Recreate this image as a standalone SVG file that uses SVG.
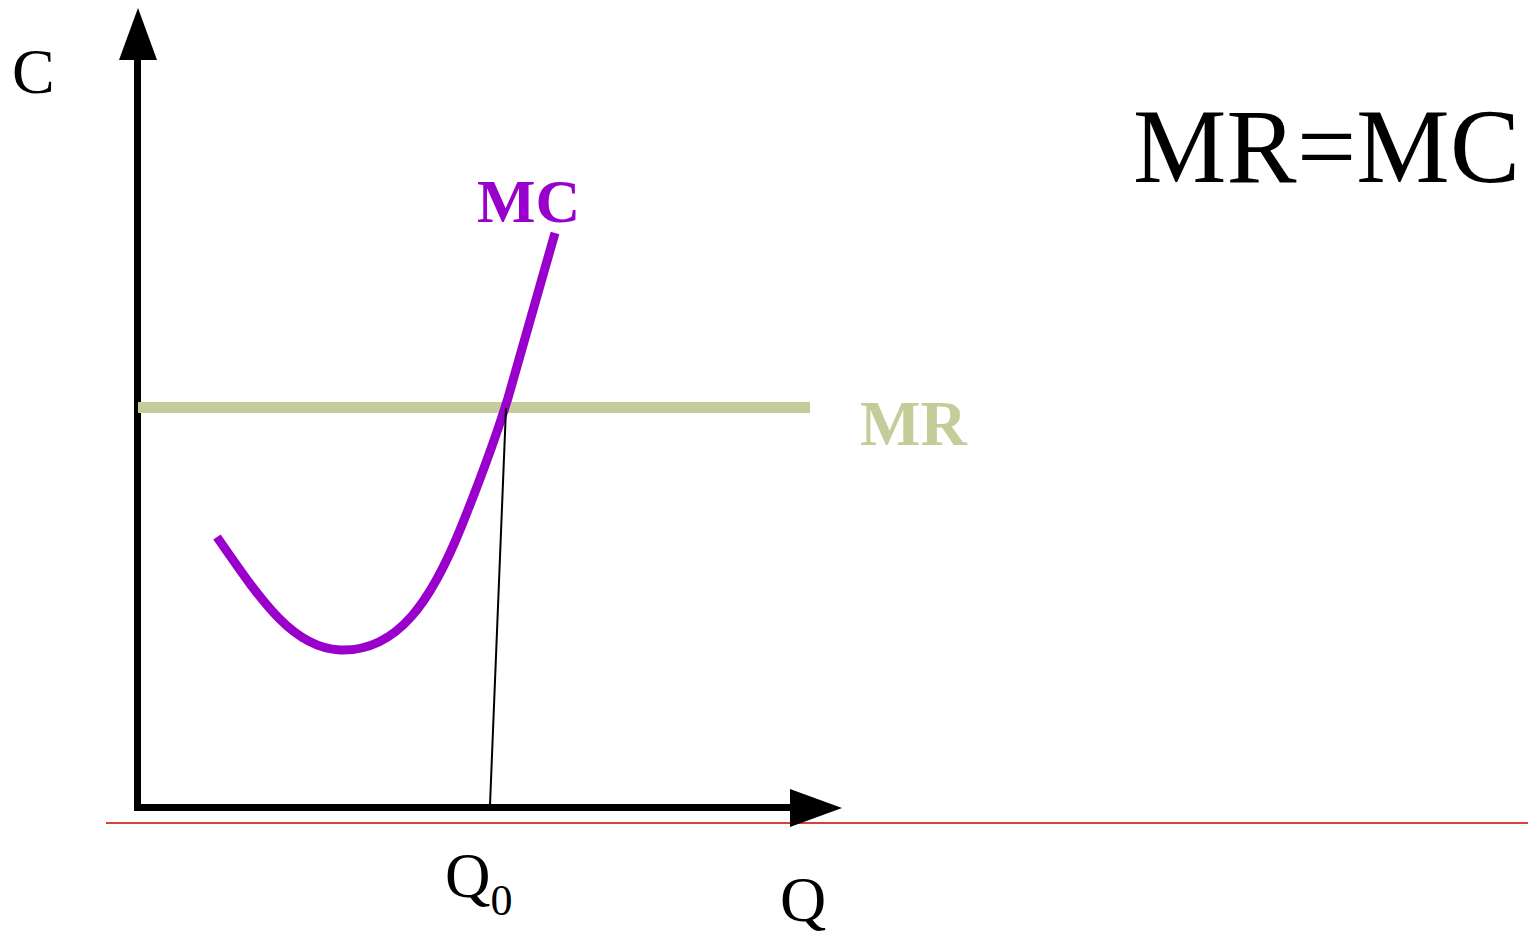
<svg xmlns="http://www.w3.org/2000/svg" width="1528" height="936" viewBox="0 0 1528 936">
<style>
.t{font-family:"Liberation Serif","Times New Roman",serif;fill:#000}
.b{font-family:"Liberation Serif","Times New Roman",serif;font-weight:bold}
.ax{stroke:#000;stroke-width:7;fill:none}
</style>
<rect width="1528" height="936" fill="#fff"/>
<g id="connectors">
<line x1="106" y1="823" x2="1528" y2="823" stroke="#cc0000" stroke-width="1.5"/>
<line class="ax" x1="137.5" y1="811" x2="137.5" y2="56"/>
<polygon points="138,8 157,60 119,60" fill="#000"/>
<line class="ax" x1="134" y1="807.5" x2="794" y2="807.5"/>
<polygon points="842,808 790,789 790,827" fill="#000"/>
<line x1="138" y1="407.5" x2="810" y2="407.5" stroke="#c5cc9a" stroke-width="11"/>
<path d="M217,537 C262,602 293,648 340,650 C398,652 432,600 462,525 C480,480 495,440 508,398 L555,233" fill="none" stroke="#9900cc" stroke-width="9"/>
<line x1="506" y1="408" x2="490" y2="805" stroke="#000" stroke-width="2"/>
</g>
<g id="labels">
<text class="t" x="12" y="93" font-size="64">C</text>
<text class="t" x="780" y="921" font-size="64">Q</text>
<text class="t" x="445" y="897" font-size="63">Q<tspan font-size="44" dy="18">0</tspan></text>
<text class="b" x="477" y="222" font-size="62" fill="#9900cc">MC</text>
<text class="b" x="860" y="445" font-size="64" fill="#c5cc9a">MR</text>
<text class="t" x="1133" y="182" font-size="105" textLength="387">MR=MC</text>
</g>
</svg>
